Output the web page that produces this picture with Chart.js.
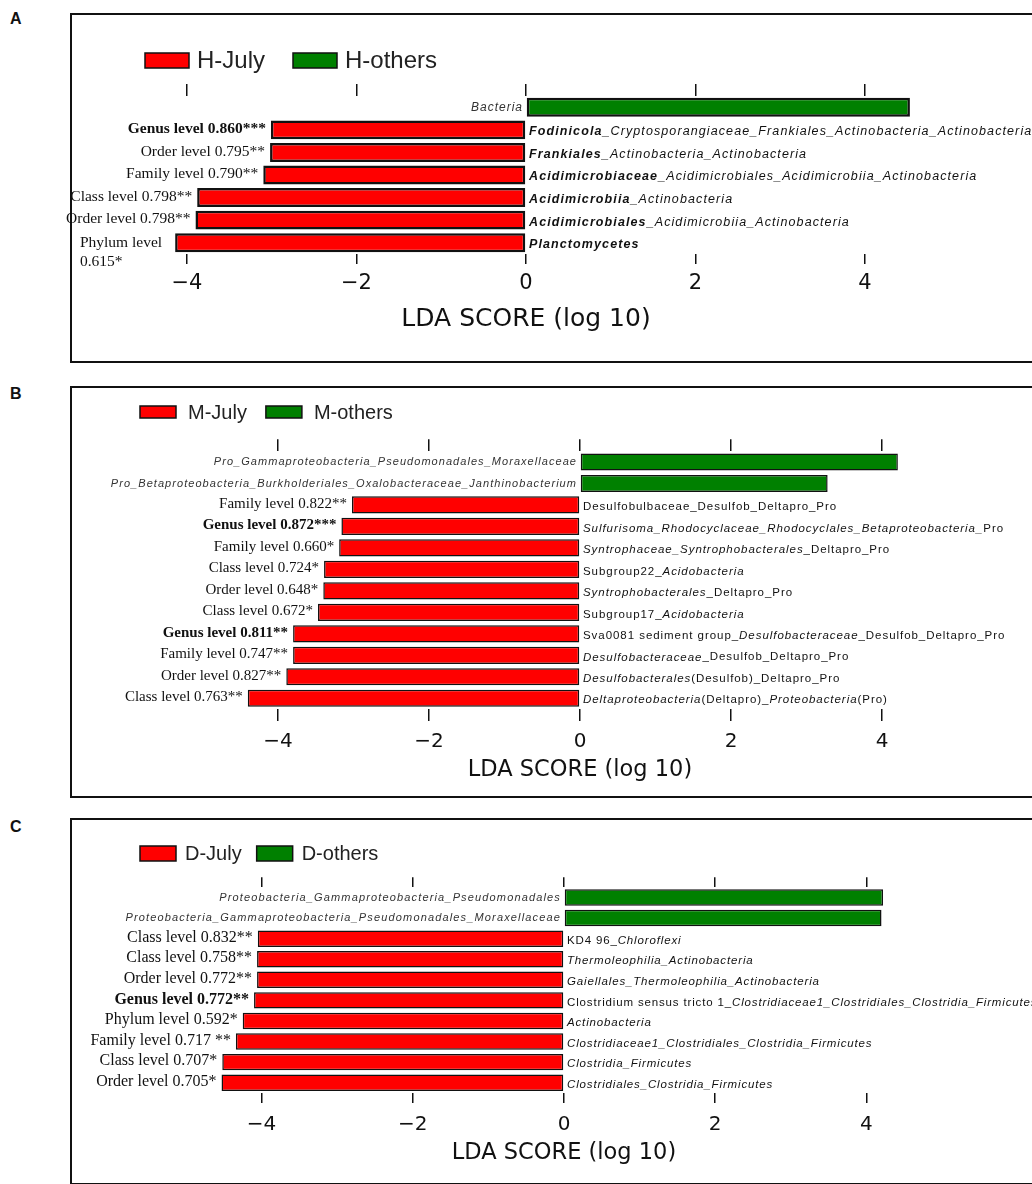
<!DOCTYPE html>
<html>
<head>
<meta charset="utf-8">
<script src="https://cdn.jsdelivr.net/npm/chart.js@4.4.1/dist/chart.umd.min.js"></script>
<style>
  body { margin: 0; background: #fff; width: 1032px; height: 1184px; overflow: hidden; position: relative; font-family: 'Liberation Sans', Arial, sans-serif; }
  .frame { position: absolute; left: 70px; width: 1000px; border: 2px solid #111; box-sizing: border-box; }
  .tag { position: absolute; left: 10px; font-weight: bold; font-size: 16px; color: #111; }
  canvas { position: absolute; left: 0; }
</style>
</head>
<body>
<div class="tag" style="top:10px">A</div>
<div class="tag" style="top:385px">B</div>
<div class="tag" style="top:818px">C</div>
<div class="frame" style="top:13px;height:350px"></div>
<div class="frame" style="top:386px;height:412px"></div>
<div class="frame" style="top:818px;height:367px"></div>
<canvas id="chartA" width="1032" height="349" style="top:13px"></canvas>
<canvas id="chartB" width="1032" height="411" style="top:386px"></canvas>
<canvas id="chartC" width="1032" height="366" style="top:818px"></canvas>
<script>
// tick values of the LDA axis
const ldaTicks = [-4, -2, 0, 2, 4];
const groupColors = ['#ff0000', '#008000'];

// taxon names: {..} italic, [..] bold italic, the rest upright
// panel A
const groupsA = ['H-July', 'H-others'];
const taxaA = [
  '{Bacteria}',
  '[Fodinicola_]{Cryptosporangiaceae_Frankiales_Actinobacteria_Actinobacteria}',
  '[Frankiales_]{Actinobacteria_Actinobacteria}',
  '[Acidimicrobiaceae_]{Acidimicrobiales_Acidimicrobiia_Actinobacteria}',
  '[Acidimicrobiia_]{Actinobacteria}',
  '[Acidimicrobiales_]{Acidimicrobiia_Actinobacteria}',
  '[Planctomycetes]'
];
const levelsA = ['', 'Genus level 0.860***', 'Order level 0.795**', 'Family level 0.790**',
  'Class level 0.798**', 'Order level 0.798**', 'Phylum level\n0.615*'];
const scoresA = [4.53, -3.01, -3.02, -3.10, -3.88, -3.90, -4.14];

// panel B
const groupsB = ['M-July', 'M-others'];
const taxaB = [
  '{Pro_Gammaproteobacteria_Pseudomonadales_Moraxellaceae}',
  '{Pro_Betaproteobacteria_Burkholderiales_Oxalobacteraceae_Janthinobacterium}',
  'Desulfobulbaceae_Desulfob_Deltapro_Pro',
  '{Sulfurisoma_Rhodocyclaceae_Rhodocyclales_Betaproteobacteria_}Pro',
  '{Syntrophaceae_Syntrophobacterales}_Deltapro_Pro',
  'Subgroup22_{Acidobacteria}',
  '{Syntrophobacterales}_Deltapro_Pro',
  'Subgroup17_{Acidobacteria}',
  'Sva0081 sediment group_{Desulfobacteraceae}_Desulfob_Deltapro_Pro',
  '{Desulfobacteraceae}_Desulfob_Deltapro_Pro',
  '{Desulfobacterales}(Desulfob)_Deltapro_Pro',
  '{Deltaproteobacteria}(Deltapro)_{Proteobacteria}(Pro)'
];
const levelsB = ['', '', 'Family level 0.822**', 'Genus level 0.872***', 'Family level 0.660*',
  'Class level 0.724*', 'Order level 0.648*', 'Class level 0.672*', 'Genus level 0.811**',
  'Family level 0.747**', 'Order level 0.827**', 'Class level 0.763**'];
const scoresB = [4.21, 3.28, -3.02, -3.16, -3.19, -3.39, -3.40, -3.47, -3.80, -3.80, -3.89, -4.40];

// panel C
const groupsC = ['D-July', 'D-others'];
const taxaC = [
  '{Proteobacteria_Gammaproteobacteria_Pseudomonadales}',
  '{Proteobacteria_Gammaproteobacteria_Pseudomonadales_Moraxellaceae}',
  'KD4 96_{Chloroflexi}',
  '{Thermoleophilia_Actinobacteria}',
  '{Gaiellales_Thermoleophilia_Actinobacteria}',
  'Clostridium sensus tricto 1_{Clostridiaceae1_Clostridiales_Clostridia_Firmicutes}',
  '{Actinobacteria}',
  '{Clostridiaceae1_Clostridiales_Clostridia_Firmicutes}',
  '{Clostridia_Firmicutes}',
  '{Clostridiales_Clostridia_Firmicutes}'
];
const levelsC = ['', '', 'Class level 0.832**', 'Class level 0.758**', 'Order level 0.772**',
  'Genus level 0.772**', 'Phylum level 0.592*', 'Family level 0.717 **', 'Class level 0.707*',
  'Order level 0.705*'];
const scoresC = [4.22, 4.20, -4.05, -4.06, -4.06, -4.10, -4.25, -4.34, -4.52, -4.53];

function parseRich(str) {
  const segs = [];
  const re = /\{([^}]*)\}|\[([^\]]*)\]|([^{\[]+)/g;
  let m;
  while ((m = re.exec(str))) {
    if (m[1] !== undefined) segs.push({t: m[1], s: 'italic '});
    else if (m[2] !== undefined) segs.push({t: m[2], s: 'italic bold '});
    else segs.push({t: m[3], s: ''});
  }
  return segs;
}

function drawRich(ctx, str, x, y, size, spacing, align) {
  const segs = parseRich(str);
  ctx.letterSpacing = spacing + 'px';
  let w = 0;
  segs.forEach(sg => {
    ctx.font = sg.s + size + 'px "Liberation Sans"';
    sg.w = ctx.measureText(sg.t).width;
    w += sg.w;
  });
  let cx = align === 'right' ? x - w : x;
  ctx.textAlign = 'left';
  segs.forEach(sg => {
    ctx.font = sg.s + size + 'px "Liberation Sans"';
    ctx.fillText(sg.t, cx, y);
    cx += sg.w;
  });
  ctx.letterSpacing = '0px';
}

const ldaText = {
  id: 'ldaText',
  afterDatasetsDraw(chart, args, o) {
    const ctx = chart.ctx, xs = chart.scales.x, ys = chart.scales.y;
    const zero = xs.getPixelForValue(0);
    const ds = chart.data.datasets;
    ctx.save();
    ctx.textBaseline = 'middle';
    chart.data.labels.forEach((name, i) => {
      const v = ds[0].data[i] !== null ? ds[0].data[i] : ds[1].data[i];
      const y = ys.getPixelForValue(i);
      if (v < 0) {
        ctx.fillStyle = '#111';
        drawRich(ctx, name, zero + 3, y + 2, o.nameSize, o.nameSpacing, 'left');
        const lev = o.levels[i];
        if (lev) {
          const end = xs.getPixelForValue(v) - 5;
          ctx.fillStyle = '#111';
          ctx.font = (lev.startsWith('Genus') ? 'bold ' : '') + o.levelSize + 'px "Liberation Serif"';
          const lines = lev.split('\n');
          if (lines.length > 1) {
            const mw = Math.max(...lines.map(l => ctx.measureText(l).width));
            ctx.textAlign = 'left';
            lines.forEach((l, k) => ctx.fillText(l, end - mw - 8, y + k * 19));
          } else {
            ctx.textAlign = 'right';
            ctx.fillText(lev, end, y - 1);
          }
        }
      } else {
        ctx.fillStyle = '#333';
        drawRich(ctx, name, zero - 3, y, o.otherSize, o.otherSpacing, 'right');
      }
    });
    ctx.restore();
  },
  afterDraw(chart, args, o) {
    const ctx = chart.ctx;
    const lg = o.legend;
    ctx.save();
    ctx.textBaseline = 'middle';
    ctx.textAlign = 'left';
    ctx.font = lg.font + 'px "Liberation Sans"';
    let x = lg.x;
    chart.data.datasets.forEach((d, k) => {
      ctx.fillStyle = d.backgroundColor;
      ctx.fillRect(x, lg.y, lg.w, lg.h);
      ctx.strokeStyle = '#111';
      ctx.lineWidth = 1.5;
      ctx.strokeRect(x, lg.y, lg.w, lg.h);
      ctx.fillStyle = '#222';
      const tx = x + lg.w + lg.textGap;
      ctx.fillText(d.label, tx, lg.y + lg.h / 2 + 1);
      x = tx + ctx.measureText(d.label).width + lg.itemGap;
    });
    ctx.restore();
  }
};

function tickLabel(v) {
  return v < 0 ? '\u2212' + Math.abs(v) : String(v);
}

function buildChart(id, groups, taxa, levels, scores, look) {
  const neg = scores.map(v => (v < 0 ? v : null));
  const pos = scores.map(v => (v > 0 ? v : null));
  const bar = {
    borderColor: '#111',
    borderWidth: look.barBorder,
    borderSkipped: false,
    barPercentage: look.bar,
    categoryPercentage: 1
  };
  const setTicks = s => { s.ticks = ldaTicks.map(v => ({value: v})); };
  return new Chart(document.getElementById(id), {
    type: 'bar',
    data: {
      labels: taxa,
      datasets: [
        Object.assign({label: groups[0], data: neg, backgroundColor: groupColors[0]}, bar),
        Object.assign({label: groups[1], data: pos, backgroundColor: groupColors[1]}, bar)
      ]
    },
    options: {
      indexAxis: 'y',
      responsive: false,
      animation: false,
      devicePixelRatio: 1,
      layout: {padding: look.padding},
      plugins: {
        legend: {display: false},
        tooltip: {enabled: false},
        ldaText: {
          levels: levels,
          nameSize: look.nameSize, nameSpacing: look.nameSpacing,
          otherSize: look.otherSize, otherSpacing: look.otherSpacing,
          levelSize: look.levelSize,
          legend: look.legend
        }
      },
      scales: {
        y: {display: false, stacked: true},
        x: {
          type: 'linear', position: 'bottom', stacked: true,
          min: -look.range, max: look.range,
          afterBuildTicks: setTicks,
          afterFit: s => { s.height = look.bottomH; },
          grid: {drawOnChartArea: false, drawTicks: true, tickLength: look.tick, color: '#111', lineWidth: 1.5},
          border: {display: false},
          ticks: {padding: look.tickPad, color: '#111', font: {family: 'DejaVu Sans', size: look.tickSize}, callback: tickLabel},
          title: {display: true, text: 'LDA SCORE (log 10)', color: '#111', font: {family: 'DejaVu Sans', size: look.titleSize}}
        },
        x2: {
          type: 'linear', position: 'top',
          min: -look.range, max: look.range,
          afterBuildTicks: setTicks,
          afterFit: s => { s.height = look.topTick; },
          grid: {drawOnChartArea: false, drawTicks: true, tickLength: look.topTick, color: '#111', lineWidth: 1.5},
          border: {display: false},
          ticks: {color: 'rgba(0,0,0,0)', padding: 0}
        }
      }
    },
    plugins: [ldaText]
  });
}

buildChart('chartA', groupsA, taxaA, levelsA, scoresA, {
  range: 5, padding: {left: 102.25, right: 82.25, top: 71, bottom: 24},
  topTick: 12, tick: 10, tickPad: 7, tickSize: 21, titleSize: 25, bottomH: 84,
  bar: 0.84, barBorder: 2.5,
  nameSize: 12.5, nameSpacing: 1.1, otherSize: 12, otherSpacing: 1, levelSize: 15.5,
  legend: {x: 145, y: 40, w: 44, h: 15, font: 24, textGap: 8, itemGap: 28}
});

buildChart('chartB', groupsB, taxaB, levelsB, scoresB, {
  range: 4.8, padding: {left: 217.6, right: 89.6, top: 53.25, bottom: 9.5},
  topTick: 12, tick: 12, tickPad: 9, tickSize: 20, titleSize: 22.5, bottomH: 78.5,
  bar: 0.8, barBorder: 1.5,
  nameSize: 11.5, nameSpacing: 0.95, otherSize: 11, otherSpacing: 1.05, levelSize: 15,
  legend: {x: 140, y: 20, w: 36, h: 12, font: 20, textGap: 12, itemGap: 19}
});

buildChart('chartC', groupsC, taxaC, levelsC, scoresC, {
  range: 5, padding: {left: 186, right: 90, top: 59.2, bottom: 13.5},
  topTick: 10, tick: 10, tickPad: 10, tickSize: 20, titleSize: 22.5, bottomH: 77.5,
  bar: 0.8, barBorder: 1.5,
  nameSize: 11.5, nameSpacing: 0.85, otherSize: 11, otherSpacing: 1.15, levelSize: 16,
  legend: {x: 140, y: 28, w: 36, h: 15, font: 20, textGap: 9, itemGap: 15}
});
</script>
</body>
</html>
